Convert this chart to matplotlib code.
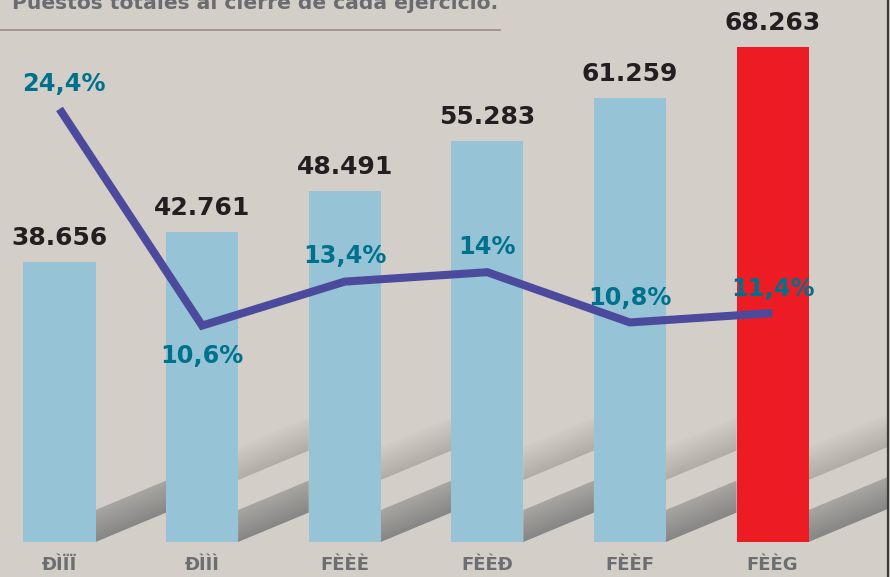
import numpy as np
import matplotlib
matplotlib.use("Agg")
import matplotlib.pyplot as plt
from matplotlib.colors import LinearSegmentedColormap
from matplotlib.patches import Polygon
from matplotlib import font_manager

# datos
anios = ["ÐÌÏÏ", "ÐÌÌÌ", "FÈÈÈ", "FÈÈÐ", "FÈÈF", "FÈÈG"]
puestos = [38656, 42761, 48491, 55283, 61259, 68263]
puestos_txt = ["38.656", "42.761", "48.491", "55.283", "61.259", "68.263"]
crecimiento = [24.4, 10.6, 13.4, 14.0, 10.8, 11.4]
crecimiento_txt = ["24,4%", "10,6%", "13,4%", "14%", "10,8%", "11,4%"]
titulo = "Puestos totales al cierre de cada ejercicio."

BG = "#d3cec8"
AZUL = "#96c4d6"
ROJO = "#ed1c24"
LINEA = "#4b4a9c"
TEAL = "#00718c"

# fuente estrecha para los años si existe
nombres = {f.name for f in font_manager.fontManager.ttflist}
ESTRECHA = "Liberation Sans Narrow" if "Liberation Sans Narrow" in nombres else "DejaVu Sans"
TAM_ANIO = 15 if ESTRECHA != "DejaVu Sans" else 13

W, H = 890, 577
fig = plt.figure(figsize=(W / 100, H / 100), dpi=100, facecolor=BG)
ax = fig.add_axes([0, 0, 1, 1])
ax.set_facecolor("none")
ax.axis("off")

x = np.arange(len(puestos))
# escala: 142.6 px por categoría, 7.245 px por mil puestos, base en y=542
PX_X = 1 / 142.6
PX_Y = 1000 / 7.245
ANCHO = 72 * PX_X

colores = [AZUL] * 5 + [ROJO]
ax.bar(x, puestos, width=ANCHO, color=colores, zorder=3)

# sombras diagonales detrás de las barras
cm_osc = LinearSegmentedColormap.from_list("osc", ["#868686", "#a9a6a1"])
cm_cla = LinearSegmentedColormap.from_list("cla", ["#b0aca6", "#d1ccc6"])
pend = 30 / 72  # px/px


def banda(x0, x1, base_px, alto_px, cmap):
    xs = np.linspace(x0, x1, 60)
    b = base_px * PX_Y + pend * (xs - x0) / PX_X * PX_Y
    ymax = b[-1] + alto_px * PX_Y
    ys = np.linspace(b[0], ymax, 120)
    XX, YY = np.meshgrid(xs, ys)
    bb = base_px * PX_Y + pend * (XX - x0) / PX_X * PX_Y
    t = np.clip((YY - bb) / (alto_px * PX_Y), 0, 1)
    im = ax.imshow(t, extent=(x0, x1, ys[0], ys[-1]), origin="lower",
                   aspect="auto", cmap=cmap, vmin=0, vmax=1, zorder=1,
                   interpolation="bilinear")
    poly = Polygon([(x0, b[0]), (x1, b[-1]), (x1, b[-1] + alto_px * PX_Y),
                    (x0, b[0] + alto_px * PX_Y)], closed=True,
                   transform=ax.transData, facecolor="none", edgecolor="none")
    ax.add_patch(poly)
    im.set_clip_path(poly)


for i in x:
    xr = i + ANCHO / 2
    x_fin = i + 1 - ANCHO / 2 if i < len(x) - 1 else (887 - 59.5) * PX_X
    banda(xr, x_fin, 0, 32, cm_osc)
    if i > 0:
        banda(xr, x_fin, 62, 33, cm_cla)

for i, (v, t) in enumerate(zip(puestos, puestos_txt)):
    ax.annotate(t, (i, v), xytext=(0, 12.3), textcoords="offset points",
                ha="center", va="baseline", fontsize=18,
                fontweight="heavy", color="#231f20", zorder=6)

ax.set_xlim(-59.5 * PX_X, (W - 59.5) * PX_X)
ax.set_ylim(-(H - 542) * PX_Y, 542 * PX_Y)

# línea de crecimiento (eje secundario)
ax2 = ax.twinx()
ax2.set_position([0, 0, 1, 1])
ax2.axis("off")
ax2.set_ylim(-(H - 492) / 15.7, 492 / 15.7)
ax2.plot(x, crecimiento, color=LINEA, lw=5.8, solid_capstyle="butt",
         solid_joinstyle="miter", zorder=5)

desp = [18, -37, 19, 18, 17, 17]
for i, (p, t) in enumerate(zip(crecimiento, crecimiento_txt)):
    ax2.annotate(t, (i, p), xytext=(3 if i == 0 else 0, desp[i] * 0.72),
                 textcoords="offset points", ha="center", va="baseline",
                 fontsize=17.3, fontweight="bold", color=TEAL, zorder=7)

# etiquetas del eje x
for i, a in enumerate(anios):
    ax.annotate(a, (i, 0), xytext=(0, -28 * 0.72), textcoords="offset points",
                ha="center", va="baseline", fontsize=TAM_ANIO, fontweight="bold",
                color="#6d6e72", family=ESTRECHA)

# título cortado arriba y filete
fig.text(12 / W, 1 - 9 / H, titulo, ha="left", va="baseline", fontsize=14.6,
         fontweight="bold", color="#6b6b70")
fig.add_artist(plt.Line2D([0, 500 / W], [1 - 30 / H] * 2, color="#a1918a",
                          lw=1.3, transform=fig.transFigure))
fig.add_artist(plt.Line2D([887.5 / W] * 2, [0, 1], color="#3a3a3a",
                          lw=1.6, transform=fig.transFigure))

fig.savefig("out.png", dpi=100, facecolor=BG)
